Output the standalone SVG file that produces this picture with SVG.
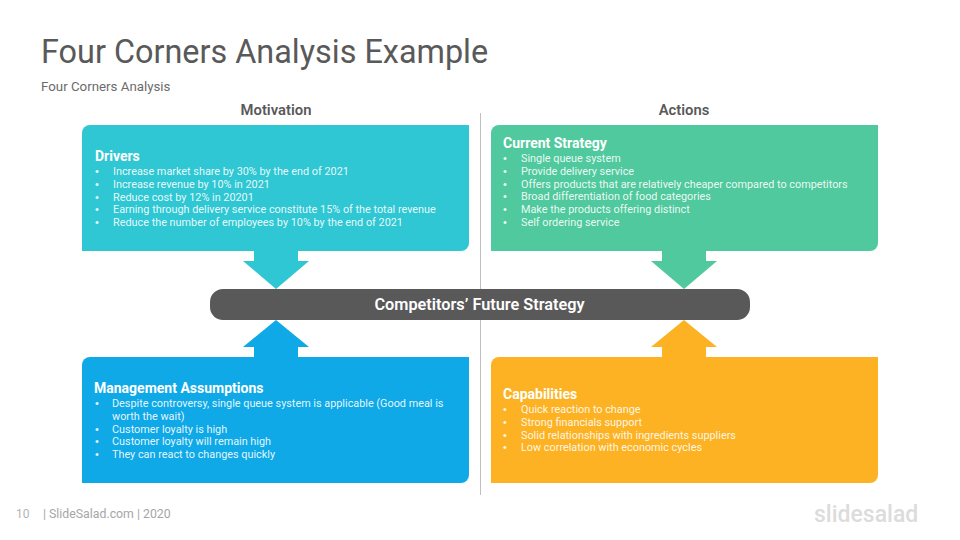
<svg xmlns="http://www.w3.org/2000/svg" width="960" height="540" viewBox="0 0 960 540">
<style>
text{font-family:Roboto,"Liberation Sans",sans-serif}
.h{font-size:14px;font-weight:700;fill:#fff}
.i{font-size:10.85px;fill:#fff;fill-opacity:.9}
.b{font-family:"Liberation Sans",sans-serif;font-size:11px}
.c{font-size:14.8px;font-weight:600;fill:#595959;text-anchor:middle}
</style>
<rect width="960" height="540" fill="#fff"/>
<text x="41" y="63" font-size="32.4" fill="#595959">Four Corners Analysis Example</text>
<text x="41" y="91" font-size="13.3" fill="#6b6b6b">Four Corners Analysis</text>
<text class="c" x="276" y="115">Motivation</text>
<text class="c" x="684" y="115">Actions</text>
<g id="connectors">
<line x1="480.5" y1="113" x2="480.5" y2="495" stroke="#bfbfbf" stroke-width="1"/>
<path fill="#2EC7D3" d="M254 250H298V261H309L276 289L243 261H254Z"/>
<path fill="#4FC99D" d="M662 250H706V261H717L684 289L651 261H662Z"/>
<path fill="#0FA9E8" d="M254 358H298V347H309L276 320L243 347H254Z"/>
<path fill="#FCB223" d="M662 358H706V347H717L684 320L651 347H662Z"/>
</g>
<g id="drivers">
<path fill="#2EC7D3" d="M90 125H469V243a8 8 0 0 1-8 8H82V133a8 8 0 0 1 8-8Z"/>
<text class="h" x="95" y="161">Drivers</text>
<g class="i">
<text class="b" x="95" y="175">•</text><text x="113" y="175">Increase market share by 30% by the end of 2021</text>
<text class="b" x="95" y="188">•</text><text x="113" y="188">Increase revenue by 10% in 2021</text>
<text class="b" x="95" y="201">•</text><text x="113" y="201">Reduce cost by 12% in 20201</text>
<text class="b" x="95" y="213">•</text><text x="113" y="213">Earning through delivery service constitute 15% of the total revenue</text>
<text class="b" x="95" y="226">•</text><text x="113" y="226">Reduce the number of employees by 10% by the end of 2021</text>
</g>
</g>
<g id="current-strategy">
<path fill="#4FC99D" d="M499 125H878V243a8 8 0 0 1-8 8H491V133a8 8 0 0 1 8-8Z"/>
<text class="h" x="503" y="148">Current Strategy</text>
<g class="i">
<text class="b" x="503" y="162">•</text><text x="521" y="162">Single queue system</text>
<text class="b" x="503" y="175">•</text><text x="521" y="175">Provide delivery service</text>
<text class="b" x="503" y="188">•</text><text x="521" y="188">Offers products that are relatively cheaper compared to competitors</text>
<text class="b" x="503" y="200">•</text><text x="521" y="200">Broad differentiation of food categories</text>
<text class="b" x="503" y="213">•</text><text x="521" y="213">Make the products offering distinct</text>
<text class="b" x="503" y="226">•</text><text x="521" y="226">Self ordering service</text>
</g>
</g>
<g id="future-strategy">
<rect x="210" y="289" width="540" height="31" rx="13" fill="#595959"/>
<text x="479.5" y="310" font-size="16.3" font-weight="600" fill="#fff" text-anchor="middle">Competitors’ Future Strategy</text>
</g>
<g id="management-assumptions">
<path fill="#0FA9E8" d="M90 357H469V475a8 8 0 0 1-8 8H82V365a8 8 0 0 1 8-8Z"/>
<text class="h" x="94" y="393">Management Assumptions</text>
<g class="i">
<text class="b" x="95" y="407">•</text><text x="112" y="407">Despite controversy, single queue system is applicable (Good meal is</text>
<text x="112" y="420">worth the wait)</text>
<text class="b" x="95" y="433">•</text><text x="112" y="433">Customer loyalty is high</text>
<text class="b" x="95" y="445">•</text><text x="112" y="445">Customer loyalty will remain high</text>
<text class="b" x="95" y="458">•</text><text x="112" y="458">They can react to changes quickly</text>
</g>
</g>
<g id="capabilities">
<path fill="#FCB223" d="M499 357H878V475a8 8 0 0 1-8 8H491V365a8 8 0 0 1 8-8Z"/>
<text class="h" x="503" y="399">Capabilities</text>
<g class="i">
<text class="b" x="503" y="413">•</text><text x="521" y="413">Quick reaction to change</text>
<text class="b" x="503" y="426">•</text><text x="521" y="426">Strong financials support</text>
<text class="b" x="503" y="439">•</text><text x="521" y="439">Solid relationships with ingredients suppliers</text>
<text class="b" x="503" y="451">•</text><text x="521" y="451">Low correlation with economic cycles</text>
</g>
</g>
<text x="16" y="518" font-size="12" fill="#b3b3b3">10</text>
<text x="43" y="518" font-size="12.3" fill="#a6a6a6">| SlideSalad.com | 2020</text>
<text x="814" y="522" font-size="23" font-weight="500" fill="#dcdcdc">slidesalad</text>
</svg>
